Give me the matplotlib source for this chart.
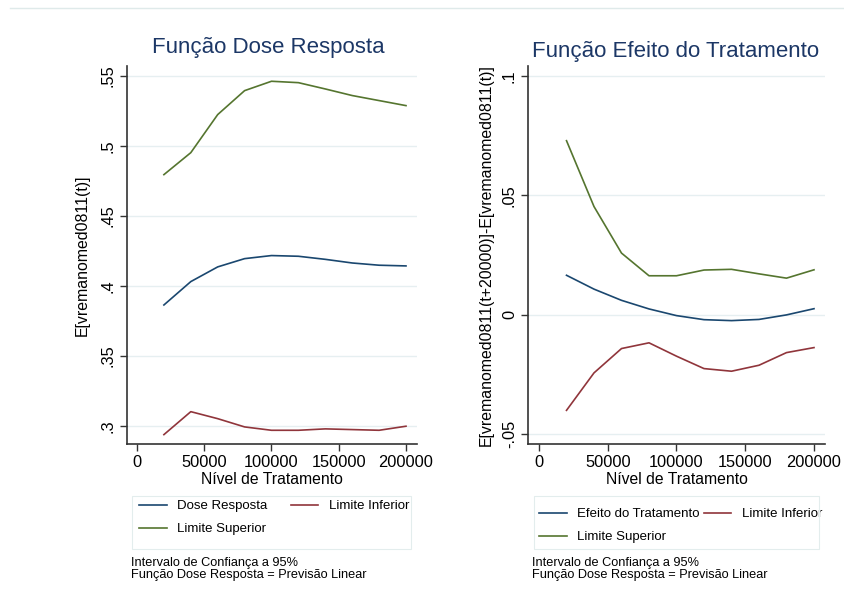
import matplotlib.pyplot as plt
from matplotlib.lines import Line2D
from matplotlib.patches import Rectangle

plt.rcParams["font.family"] = ["Liberation Sans", "DejaVu Sans"]

# Treatment levels (x)
dose_levels = [20000, 40000, 60000, 80000, 100000, 120000, 140000, 160000, 180000, 200000]

# Left panel: dose response function
dose_resp = [0.3864, 0.4031, 0.4136, 0.4195, 0.4217, 0.4212, 0.4190, 0.4164, 0.4148, 0.4143]
dose_low = [0.2938, 0.3102, 0.3052, 0.2993, 0.2969, 0.2969, 0.2979, 0.2974, 0.2969, 0.2998]
dose_high = [0.4795, 0.4952, 0.5224, 0.5395, 0.5462, 0.5452, 0.5407, 0.5360, 0.5324, 0.5288]

# Right panel: treatment effect function
effect = [0.0165, 0.0107, 0.0060, 0.0024, -0.0004, -0.0021, -0.0025, -0.0020, -0.0001, 0.0025]
effect_low = [-0.0401, -0.0244, -0.0142, -0.0118, -0.0174, -0.0226, -0.0237, -0.0212, -0.0159, -0.0138]
effect_high = [0.0729, 0.0453, 0.0258, 0.0163, 0.0163, 0.0187, 0.0190, 0.0171, 0.0153, 0.0188]

x_ticks = [0, 50000, 100000, 150000, 200000]
left_yticks = [0.3, 0.35, 0.4, 0.45, 0.5, 0.55]
left_ylabels = [".3", ".35", ".4", ".45", ".5", ".55"]
right_yticks = [-0.05, 0, 0.05, 0.1]
right_ylabels = ["-.05", "0", ".05", ".1"]

BLUE = "#1a476f"
RED = "#90353b"
GREEN = "#55752f"
TITLE = "#1c3766"
GRID = "#e6eff1"
W, H = 845, 611

fig = plt.figure(figsize=(8.45, 6.11), dpi=100)

# faint frame line at the top
fig.add_artist(Line2D([10 / W, 1], [1 - 8 / H, 1 - 8 / H], color="#dfeaea", lw=1))


def style_axes(ax, yticks, ylabels, ylim, xlim):
    ax.set_ylim(*ylim)
    ax.set_xlim(*xlim)
    ax.set_xticks(x_ticks)
    ax.set_xticklabels([str(t) for t in x_ticks], fontsize=11.8)
    ax.set_yticks(yticks)
    ax.set_yticklabels(ylabels, fontsize=11.8, rotation=90, va="center")
    for s in ["top", "right"]:
        ax.spines[s].set_visible(False)
    for s in ["left", "bottom"]:
        ax.spines[s].set_color("#333333")
        ax.spines[s].set_linewidth(1.2)
    ax.tick_params(length=5, width=1, color="#333333", pad=3)
    ax.grid(axis="y", color=GRID, lw=1)
    ax.set_axisbelow(True)
    ax.set_xlabel("Nível de Tratamento", fontsize=11.3, labelpad=1)


def add_legend(ax, lines, box, anchor, colspace):
    # frame drawn separately, entries fill row by row like the reference
    x0, x1, y0, y1 = box
    fig.add_artist(Rectangle((x0 / W, 1 - y1 / H), (x1 - x0) / W, (y1 - y0) / H,
                             transform=fig.transFigure, facecolor="none",
                             edgecolor="#e3eded", lw=0.8))
    handles = [lines[0], lines[2], lines[1]]
    ax.legend(handles, [h.get_label() for h in handles], ncol=2, loc="upper left",
              bbox_to_anchor=(anchor[0] / W, 1 - anchor[1] / H),
              bbox_transform=fig.transFigure, frameon=False,
              fontsize=9.5, handlelength=2.1, handletextpad=0.8, borderpad=0,
              borderaxespad=0, labelspacing=0.83, columnspacing=colspace)


def add_notes(xpix):
    fig.text(xpix / W, 1 - 563 / H, "Intervalo de Confiança a 95%", fontsize=9.2, va="center")
    fig.text(xpix / W, 1 - 575 / H, "Função Dose Resposta = Previsão Linear", fontsize=9.2, va="center")


# Left panel
ax1 = fig.add_axes([127 / W, 1 - 444 / H, 290 / W, 378 / H])
l1 = ax1.plot(dose_levels, dose_resp, color=BLUE, lw=1.2, label="Dose Resposta")
l2 = ax1.plot(dose_levels, dose_low, color=RED, lw=1.2, label="Limite Inferior")
l3 = ax1.plot(dose_levels, dose_high, color=GREEN, lw=1.2, label="Limite Superior")
style_axes(ax1, left_yticks, left_ylabels, (0.2871, 0.5571), (-7435, 208180))
ax1.set_ylabel("E[vremanomed0811(t)]", fontsize=11.4, labelpad=8)
fig.text(268 / W, 1 - 47 / H, "Função Dose Resposta", fontsize=16, color=TITLE,
         ha="center", va="center")
add_legend(ax1, l1 + l2 + l3, (132, 411, 496, 549), (139, 500), 1.75)
add_notes(131)

# Right panel
ax2 = fig.add_axes([528 / W, 1 - 444 / H, 297 / W, 378 / H])
m1 = ax2.plot(dose_levels, effect, color=BLUE, lw=1.2, label="Efeito do Tratamento")
m2 = ax2.plot(dose_levels, effect_low, color=RED, lw=1.2, label="Limite Inferior")
m3 = ax2.plot(dose_levels, effect_high, color=GREEN, lw=1.2, label="Limite Superior")
style_axes(ax2, right_yticks, right_ylabels, (-0.0542, 0.1042), (-8000, 208000))
ax2.set_ylabel("E[vremanomed0811(t+20000)]-E[vremanomed0811(t)]", fontsize=11.4, labelpad=6)
fig.text(676 / W, 1 - 51 / H, "Função Efeito do Tratamento", fontsize=16, color=TITLE,
         ha="center", va="center")
add_legend(ax2, m1 + m2 + m3, (534, 819, 496, 549), (539, 508), 0.3)
add_notes(532)

plt.savefig("out.png", dpi=100, facecolor="white")
